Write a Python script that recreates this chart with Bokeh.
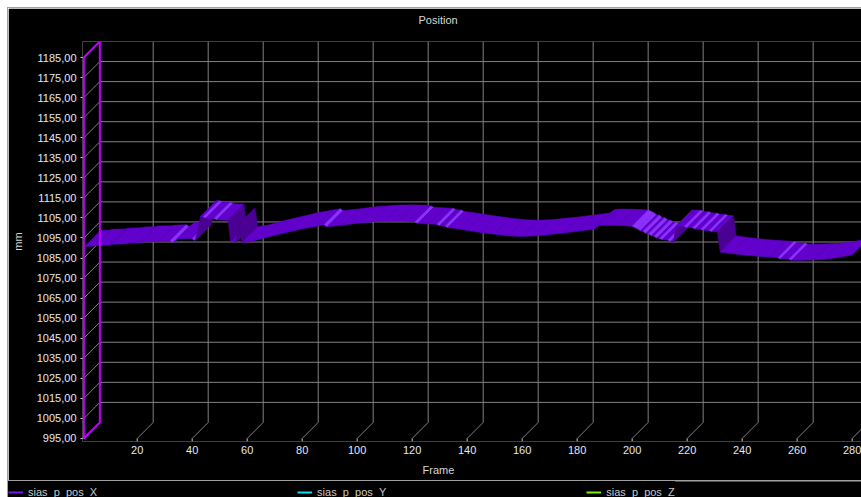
from bokeh.plotting import figure
from bokeh.models import (Range1d, FixedTicker, CustomJSTickFormatter, Legend,
                          LegendItem, Title, ColumnDataSource)
from bokeh.embed import file_html
from bokeh.resources import INLINE

# ---- data ----
frames = [1, 4, 5, 10, 11, 16, 17, 21, 22, 27, 28, 32,
          33, 35, 38, 40, 41, 42, 43, 44, 45, 48, 49, 53, 54, 56, 57, 58,
          62, 66, 70, 75, 80, 85, 88, 89, 95, 100, 105, 110, 115,
          119, 121, 122, 126, 129, 130, 132, 133, 137, 140, 145, 150, 155, 160, 165, 170, 175,
          180, 185, 186, 187, 188, 190, 195, 200, 202, 203, 204, 205, 206, 207, 208, 209, 210,
          211, 213, 214, 215, 216, 217, 219, 220, 222, 223, 225, 226, 228, 229, 231, 232,
          236, 240, 245, 250, 253, 254, 257, 258, 262, 266, 270, 275, 280]
pos_x = [1090.8, 1090.9, 1091.3, 1091.5, 1091.9, 1092.1, 1092.5, 1092.6, 1093.0, 1093.1, 1093.4, 1093.6,
         1092.6, 1094.6, 1094.8, 1094.6, 1093.8, 1098.0, 1105.6, 1105.6, 1105.0, 1104.8, 1104.1, 1103.8,
         1093.2, 1093.0, 1102.0, 1092.6,
         1093.5, 1095.0, 1096.4, 1098.0, 1099.6, 1100.8, 1101.6, 1100.6, 1101.5, 1102.4, 1103.0, 1103.4, 1103.5,
         1103.3, 1103.0, 1102.3, 1102.0, 1101.8, 1101.1, 1100.9, 1100.2, 1099.5, 1098.8, 1097.8, 1096.9,
         1096.1, 1095.8, 1096.1, 1096.8, 1097.5,
         1098.4, 1099.2, 1099.4, 1100.3, 1101.2, 1101.4, 1101.3, 1100.9, 1099.6, 1098.6, 1098.4, 1097.3,
         1097.1, 1096.1, 1095.9, 1095.0, 1094.8,
         1094.2, 1094.0, 1093.2, 1093.0, 1101.0, 1100.9, 1100.8, 1100.2, 1100.1, 1099.5, 1099.4, 1098.8,
         1098.7, 1098.2, 1098.1, 1088.0,
         1087.3, 1086.6, 1086.0, 1085.5, 1085.2, 1084.6, 1084.5, 1083.9, 1083.9, 1084.1, 1084.4, 1085.3, 1086.6]
# series Y and Z lie outside the shown axis range (only their legend entries are visible)

x_ticks = [20, 40, 60, 80, 100, 120, 140, 160, 180, 200, 220, 240, 260, 280]
y_ticks = [995, 1005, 1015, 1025, 1035, 1045, 1055, 1065, 1075, 1085, 1095,
           1105, 1115, 1125, 1135, 1145, 1155, 1165, 1175, 1185]
series_names = ["sias_p_pos_X", "sias_p_pos_Y", "sias_p_pos_Z"]
series_colors = ["#7A16F0", "#00E0F0", "#80F000"]

# ---- 3D look ----
X_AXIS_MIN = 0.6      # front-left wall (frame units)
DEPTH_F = 5.82        # depth offset along x (frames)
DEPTH_V = 8.0         # depth offset along y (mm)
Y_LO, Y_HI = y_ticks[0], y_ticks[-1]

FONT = "Liberation Sans"
GRID = "#808080"
WALL = "#C000FF"
BASE, BRIGHT, DARK = "#6200CC", "#8A30FF", "#4A0092"
BORDER = "1px solid #a0a0a0"

x_range = Range1d(0.11, 283.4)
y_range = Range1d(993.5, Y_HI + DEPTH_V)

p = figure(width=853, height=473, output_backend="svg", toolbar_location=None,
           x_range=x_range, y_range=y_range, margin=(8, 0, 0, 8),
           min_border_left=74, min_border_right=0, min_border_top=33, min_border_bottom=40,
           background_fill_color="black", border_fill_color="black",
           outline_line_color=None)
p.styles = {"outline": BORDER}
p.xgrid.visible = False
p.ygrid.visible = False

# axes
p.xaxis.ticker = FixedTicker(ticks=x_ticks)
p.yaxis.ticker = FixedTicker(ticks=y_ticks)
p.yaxis.formatter = CustomJSTickFormatter(code="return tick.toFixed(2).replace('.', ',');")
for ax in (p.xaxis, p.yaxis):
    ax.axis_line_color = None
    ax.minor_tick_line_color = None
    ax.major_tick_in = 0
    ax.major_label_text_font = FONT
    ax.major_label_text_font_size = "11px"
    ax.major_label_text_color = "#E4E8F4"
    ax.axis_label_text_font = FONT
    ax.axis_label_text_font_size = "11px"
    ax.axis_label_text_font_style = "normal"
    ax.axis_label_text_color = "#D8D8D8"
p.xaxis.major_tick_out = 0
p.xaxis.major_label_standoff = 4
p.yaxis.major_tick_out = 2
p.yaxis.major_tick_line_color = "#C8C8C8"
p.yaxis.major_label_standoff = 4
p.yaxis.axis_label = "mm"
p.yaxis.axis_label_standoff = 10

# titles (blank spacers set the vertical positions)
p.add_layout(Title(text=" ", text_font=FONT, text_font_size="11px", standoff=0), "above")
p.add_layout(Title(text="Position", align="left", offset=336, text_font=FONT,
                   text_font_size="11px", text_font_style="normal", text_color="#D8D8D8",
                   vertical_align="top", standoff=0), "above")
p.add_layout(Title(text=" ", text_font=FONT, text_font_size="3px", standoff=0), "below")
p.add_layout(Title(text="Frame", align="left", offset=340, text_font=FONT,
                   text_font_size="11px", text_font_style="normal", text_color="#D8D8D8",
                   standoff=0), "below")

# back wall grid
gx_vert = [[t + DEPTH_F, t + DEPTH_F] for t in x_ticks]
gy_vert = [[Y_LO + DEPTH_V, Y_HI + DEPTH_V] for t in x_ticks]
gx_floor = [[t, t + DEPTH_F] for t in x_ticks]
gy_floor = [[Y_LO, Y_LO + DEPTH_V] for t in x_ticks]
gx_tick = [[t, t] for t in x_ticks]
gy_tick = [[Y_LO, y_range.start] for t in x_ticks]
inner = y_ticks[1:-1]
gx_h = [[X_AXIS_MIN + DEPTH_F, x_range.end + 10] for v in inner]
gy_h = [[v + DEPTH_V, v + DEPTH_V] for v in inner]
gx_wd = [[X_AXIS_MIN, X_AXIS_MIN + DEPTH_F] for v in inner]
gy_wd = [[v, v + DEPTH_V] for v in inner]
p.multi_line(gx_vert + gx_floor + gx_h + gx_wd, gy_vert + gy_floor + gy_h + gy_wd,
             line_color=GRID, line_width=1)
p.multi_line(gx_tick + [[x_range.start, X_AXIS_MIN] for v in y_ticks],
             gy_tick + [[v, v] for v in y_ticks], line_color="#C8C8C8", line_width=1)

# ribbon (series X)
xs, ys, cols = [], [], []
ref = DEPTH_V / DEPTH_F
for i in range(len(frames) - 1):
    f0, f1 = frames[i], frames[i + 1]
    v0, v1 = pos_x[i], pos_x[i + 1]
    xs.append([f0, f1, f1 + DEPTH_F, f0 + DEPTH_F])
    ys.append([v0, v1, v1 + DEPTH_V, v0 + DEPTH_V])
    r = (v1 - v0) / (f1 - f0) / ref
    if r >= 1 or r <= -2.5:
        cols.append(DARK)
    elif r <= -0.3:
        cols.append(BRIGHT)
    else:
        cols.append(BASE)
src = ColumnDataSource(dict(xs=xs, ys=ys, c=cols))
p.patches("xs", "ys", source=src, fill_color="c", line_color="c", line_width=0.6)

# left wall outline
p.patch([X_AXIS_MIN, X_AXIS_MIN, X_AXIS_MIN + DEPTH_F, X_AXIS_MIN + DEPTH_F],
        [Y_LO, Y_HI, Y_HI + DEPTH_V, Y_LO + DEPTH_V],
        fill_color=None, line_color=WALL, line_width=2)

# ---- legend strip below the chart (separate root, its own frame) ----
pl = figure(width=853, height=16, output_backend="svg", toolbar_location=None,
            x_range=Range1d(0, 1), y_range=Range1d(0, 1), margin=(0, 0, 0, 8),
            x_axis_type=None, y_axis_type=None,
            min_border_left=0, min_border_right=0, min_border_top=0, min_border_bottom=0,
            background_fill_color="black", border_fill_color="black", outline_line_color=None)
pl.styles = {"outline": BORDER}
pl.xgrid.visible = False
pl.ygrid.visible = False
# legend keys: a single (out of view) point each, so only the key line shows
proxies = [pl.line(x=frames[:1], y=pos_x[:1], line_color=c, line_width=2)
           for c in series_colors]
legend = Legend(items=[LegendItem(label=n, renderers=[r])
                       for n, r in zip(series_names, proxies)],
                orientation="horizontal", location="top_left",
                padding=4, margin=0, spacing=200,
                glyph_width=15, glyph_height=22, label_height=22, label_standoff=5,
                label_text_font=FONT, label_text_font_size="11px", label_text_color="#C8C8C8",
                background_fill_color="black", background_fill_alpha=1.0,
                border_line_color=None)
pl.add_layout(legend, "center")

open("out.html", "w").write(file_html([p, pl], INLINE))
